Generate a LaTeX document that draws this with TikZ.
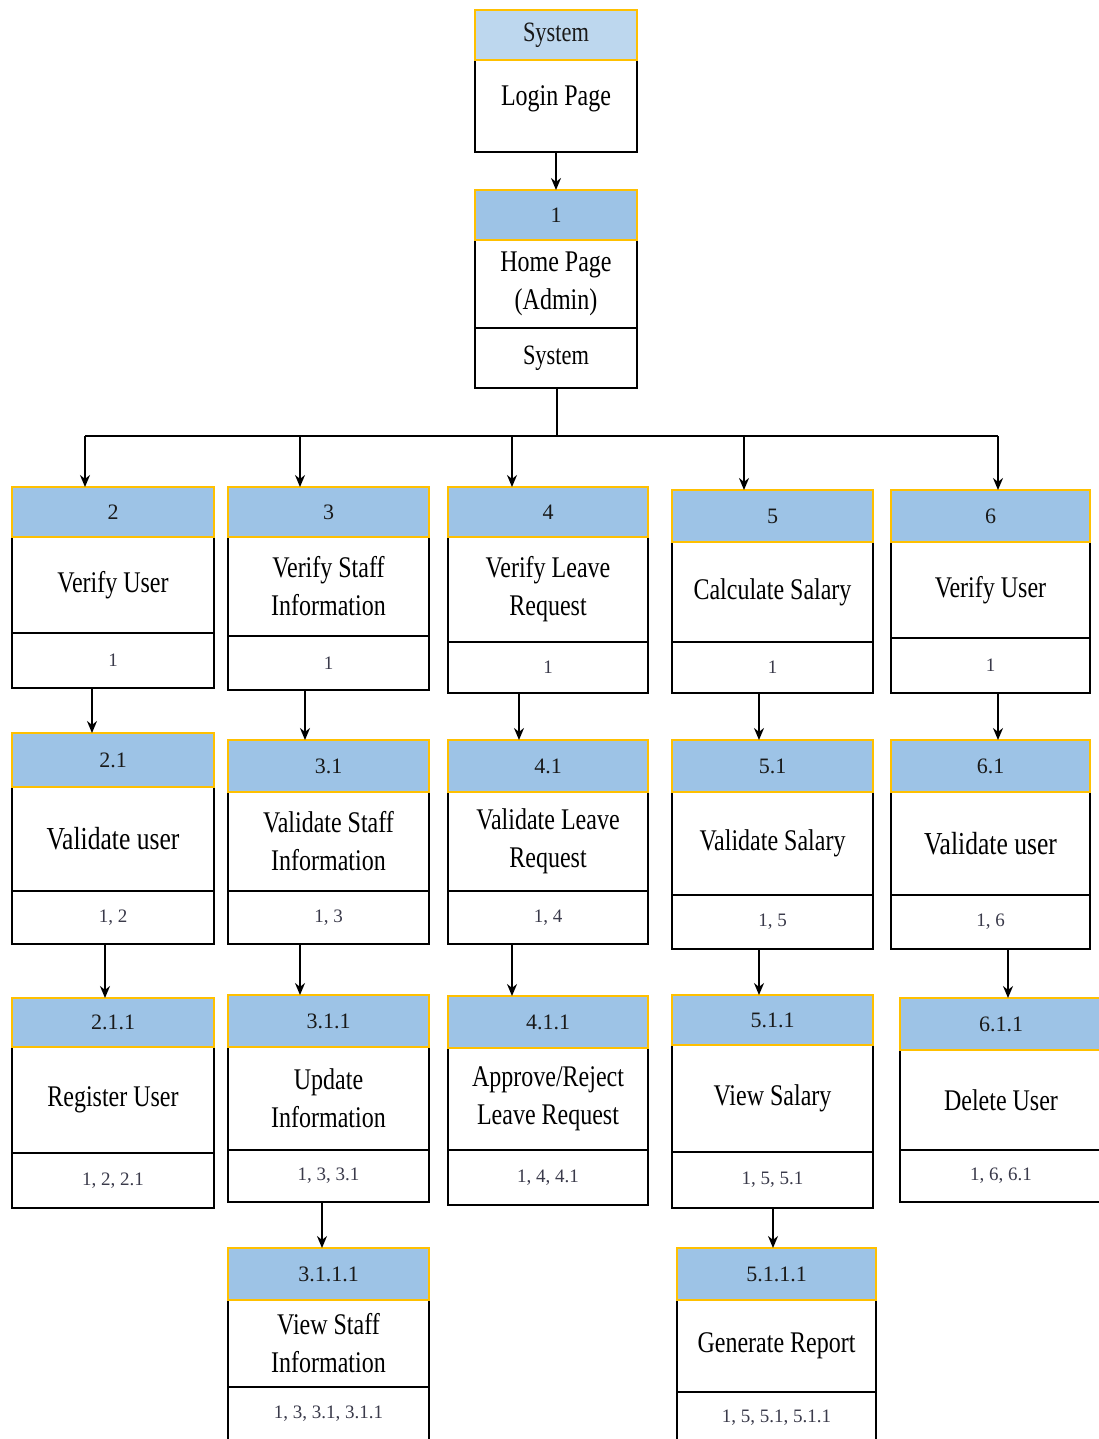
\documentclass[tikz,border=0pt]{standalone}
\usepackage{fontspec}
\setmainfont{Liberation Serif}
\newfontfamily\mainf[FakeStretch=0.8]{Liberation Serif}
\usetikzlibrary{arrows.meta}
\definecolor{hdr}{HTML}{9DC3E6}
\definecolor{hdrl}{HTML}{BDD7EE}
\definecolor{gold}{HTML}{FFC000}
\definecolor{ftxt}{HTML}{3A3A4A}
\tikzset{
  boxbase/.style={inner sep=0pt, outer sep=0pt, align=center},
  hd/.style={boxbase, draw=gold, fill=hdr, line width=1.5pt, text=black!90, font=\fontsize{22}{26}\selectfont},
  hdl/.style={boxbase, draw=gold, fill=hdrl, line width=1.5pt, text=black!90, font=\mainf\fontsize{28}{34}\selectfont},
  bd/.style={boxbase, draw=black, fill=white, line width=1.8pt, font=\mainf\fontsize{30}{38}\selectfont},
  ft/.style={boxbase, draw=black, fill=white, line width=1.8pt, text=ftxt, font=\fontsize{19}{22}\selectfont},
  fts/.style={boxbase, draw=black, fill=white, line width=1.8pt, font=\mainf\fontsize{28}{34}\selectfont},
  conn/.style={line width=1.6pt, draw=black},
  arr/.style={conn, -{Stealth[length=12pt,width=10pt]}}
}
\newcommand\pbox[7]{\node[#6, minimum width={(#3-#2)*1pt}, minimum height={(#5-#4)*1pt}] (#1) at ({(#2+#3)/2},{(#4+#5)/2}) {#7};}
\newcommand\blkfoot[6]{\pbox{f#1}{#2}{#3}{#4}{#5}{ft}{#6}}
% name, x1, x2, y header top, y header bottom, y body bottom, y footer bottom, header, body, {footer}
\newcommand\blk[9]{\pbox{b#1}{#2}{#3}{#5}{#6}{bd}{#9}\pbox{h#1}{#2}{#3}{#4}{#5}{hd}{#8}\blkfoot{#1}{#2}{#3}{#6}{#7}}
\begin{document}
\begin{tikzpicture}[x=1pt,y=-1pt]
\useasboundingbox (0,0) rectangle (1099,1439);
\fill[white] (0,0) rectangle (1099,1439);
\clip (0,0) rectangle (1099,1439);

% top
\pbox{bT}{475}{637}{60}{152}{bd}{\smash{Login Page}}
\pbox{hT}{475}{637}{10}{60}{hdl}{System}
% 1
\pbox{b1}{475}{637}{240}{328}{bd}{Home Page\\(Admin)}
\pbox{h1}{475}{637}{190}{240}{hd}{1}
\pbox{f1}{475}{637}{328}{388}{fts}{System}

% row 1
\blk{2}{12}{214}{487}{537}{633}{688}{2}{Verify User}{1}
\blk{3}{228}{429}{487}{537}{636}{690}{3}{Verify Staff\\Information}{1}
\blk{4}{448}{648}{487}{537}{642}{693}{4}{Verify Leave\\Request}{1}
\blk{5}{672}{873}{490}{542}{642}{693}{5}{Calculate Salary}{1}
\blk{6}{891}{1090}{490}{542}{638}{693}{6}{Verify User}{1}

% row 2
\blk{21}{12}{214}{733}{787}{891}{944}{2.1}{\fontsize{32}{38}\selectfont Validate user}{1, 2}
\blk{31}{228}{429}{740}{792}{891}{944}{3.1}{Validate Staff\\Information}{1, 3}
\blk{41}{448}{648}{740}{792}{891}{944}{4.1}{Validate Leave\\Request}{1, 4}
\blk{51}{672}{873}{740}{792}{895}{949}{5.1}{Validate Salary}{1, 5}
\blk{61}{891}{1090}{740}{792}{895}{949}{6.1}{\fontsize{32}{38}\selectfont Validate user}{1, 6}

% row 3
\blk{211}{12}{214}{998}{1047}{1153}{1208}{2.1.1}{Register User}{1, 2, 2.1}
\blk{311}{228}{429}{995}{1047}{1150}{1202}{3.1.1}{Update\\Information}{1, 3, 3.1}
\blk{411}{448}{648}{996}{1048}{1150}{1205}{4.1.1}{Approve/Reject\\Leave Request}{1, 4, 4.1}
\blk{511}{672}{873}{995}{1045}{1152}{1208}{5.1.1}{View Salary}{1, 5, 5.1}
\blk{611}{900}{1102}{998}{1050}{1150}{1202}{6.1.1}{Delete User}{1, 6, 6.1}

% row 4
\blk{3111}{228}{429}{1248}{1300}{1387}{1441}{3.1.1.1}{View Staff\\Information}{1, 3, 3.1, 3.1.1}
\blk{5111}{677}{876}{1248}{1300}{1392}{1443}{5.1.1.1}{Generate Report}{1, 5, 5.1, 5.1.1}

% connectors top
\draw[arr] (bT.south) -- (h1.north);
\coordinate (j) at (557,436);
\coordinate (j2) at (85,436);
\coordinate (j3) at (300,436);
\coordinate (j4) at (512,436);
\coordinate (j5) at (744,436);
\coordinate (j6) at (998,436);
\draw[conn] (j |- f1.south) -- (j);
\draw[conn] (j2) -- (j6);
\draw[arr] (j2) -- (j2 |- h2.north);
\draw[arr] (j3) -- (j3 |- h3.north);
\draw[arr] (j4) -- (j4 |- h4.north);
\draw[arr] (j5) -- (j5 |- h5.north);
\draw[arr] (j6) -- (j6 |- h6.north);

% row1 -> row2
\coordinate (a2) at (92,0);
\coordinate (a3) at (305,0);
\coordinate (a4) at (519,0);
\coordinate (a5) at (759,0);
\coordinate (a6) at (998,0);
\draw[arr] (f2.south -| a2) -- (h21.north -| a2);
\draw[arr] (f3.south -| a3) -- (h31.north -| a3);
\draw[arr] (f4.south -| a4) -- (h41.north -| a4);
\draw[arr] (f5.south -| a5) -- (h51.north -| a5);
\draw[arr] (f6.south -| a6) -- (h61.north -| a6);

% row2 -> row3
\coordinate (c2) at (105,0);
\coordinate (c3) at (300,0);
\coordinate (c4) at (512,0);
\coordinate (c5) at (759,0);
\coordinate (c6) at (1008,0);
\draw[arr] (f21.south -| c2) -- (h211.north -| c2);
\draw[arr] (f31.south -| c3) -- (h311.north -| c3);
\draw[arr] (f41.south -| c4) -- (h411.north -| c4);
\draw[arr] (f51.south -| c5) -- (h511.north -| c5);
\draw[arr] (f61.south -| c6) -- (h611.north -| c6);

% row3 -> row4
\coordinate (d3) at (322,0);
\coordinate (d5) at (773,0);
\draw[arr] (f311.south -| d3) -- (h3111.north -| d3);
\draw[arr] (f511.south -| d5) -- (h5111.north -| d5);
\end{tikzpicture}
\end{document}
